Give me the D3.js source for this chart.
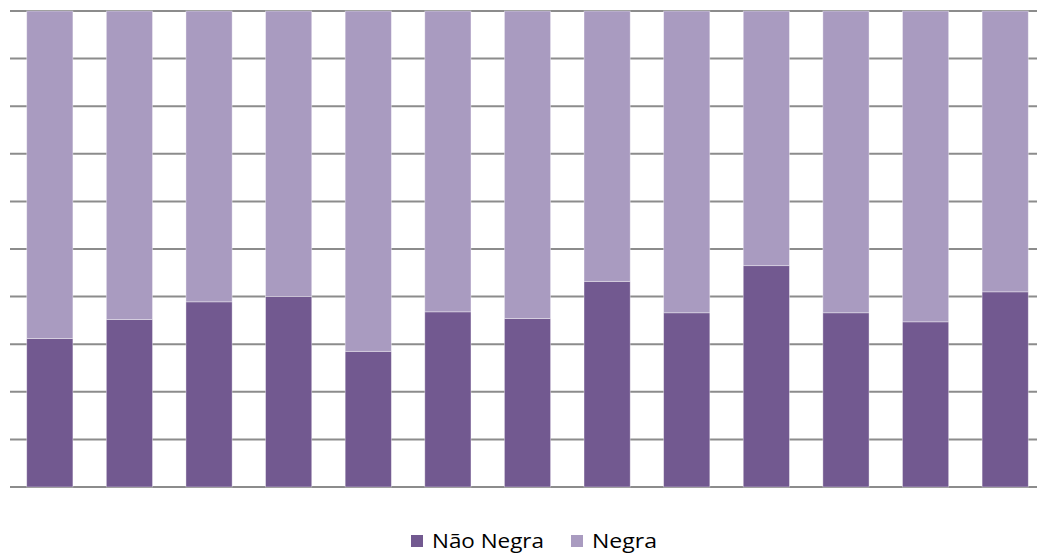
<!DOCTYPE html>
<html>
<head>
<meta charset="utf-8">
<script src="https://cdn.jsdelivr.net/npm/d3@7"></script>
<style>
  html, body { margin: 0; padding: 0; background: #ffffff; }
  svg { display: block; }
</style>
</head>
<body>
<svg id="chart" width="1037" height="553"></svg>
<script>
// Share of each group per category (percent); the two series sum to 100.
const categories = ["1","2","3","4","5","6","7","8","9","10","11","12","13"];
const naoNegra = [31.2, 35.2, 38.9, 40.0, 28.5, 36.8, 35.4, 43.2, 36.6, 46.5, 36.6, 34.7, 41.0];
const negra = naoNegra.map(v => 100 - v);
const seriesNames = ["Não Negra", "Negra"];
const seriesColors = ["#725990", "#A99BC0"];
const yTicks = [0, 10, 20, 30, 40, 50, 60, 70, 80, 90, 100];

const svg = d3.select("#chart");
const W = 1037, H = 553;
const plot = { left: 10, right: 1045, top: 11, bottom: 487 };

const x = d3.scaleBand()
  .domain(categories)
  .range([plot.left, plot.right])
  .paddingInner(0.42)
  .paddingOuter(0.21);

const y = d3.scaleLinear()
  .domain([0, 100])
  .range([plot.bottom, plot.top]);

// Horizontal gridlines
svg.append("g")
  .selectAll("line")
  .data(yTicks)
  .join("line")
  .attr("x1", plot.left)
  .attr("x2", W + 5)
  .attr("y1", d => y(d))
  .attr("y2", d => y(d))
  .attr("stroke", "#8c8c8c")
  .attr("stroke-width", 2);

// Stacked bars
const rows = categories.map((c, i) => ({ cat: c, "Não Negra": naoNegra[i], "Negra": negra[i] }));
const stacked = d3.stack().keys(seriesNames)(rows);

svg.append("g")
  .selectAll("g")
  .data(stacked)
  .join("g")
  .attr("fill", (d, i) => seriesColors[i])
  .selectAll("rect")
  .data(d => d)
  .join("rect")
  .attr("x", d => x(d.data.cat))
  .attr("width", x.bandwidth())
  .attr("y", d => y(d[1]))
  .attr("height", d => y(d[0]) - y(d[1]))
  .attr("stroke", "#ffffff")
  .attr("stroke-opacity", 0.45)
  .attr("stroke-width", 0.8);

// Legend
const legend = svg.append("g").attr("font-family", "'Open Sans', 'Liberation Sans', sans-serif");
const legendItems = [
  { name: seriesNames[0], color: seriesColors[0], sx: 411, tx: 432, tw: 112 },
  { name: seriesNames[1], color: seriesColors[1], sx: 571, tx: 592, tw: 65 }
];
legendItems.forEach(it => {
  legend.append("rect")
    .attr("x", it.sx).attr("y", 535)
    .attr("width", 12).attr("height", 12)
    .attr("fill", it.color);
  legend.append("text")
    .attr("x", it.tx).attr("y", 548)
    .attr("font-size", 20)
    .attr("fill", "#000000")
    .attr("textLength", it.tw)
    .attr("lengthAdjust", "spacingAndGlyphs")
    .text(it.name);
});
</script>
</body>
</html>
